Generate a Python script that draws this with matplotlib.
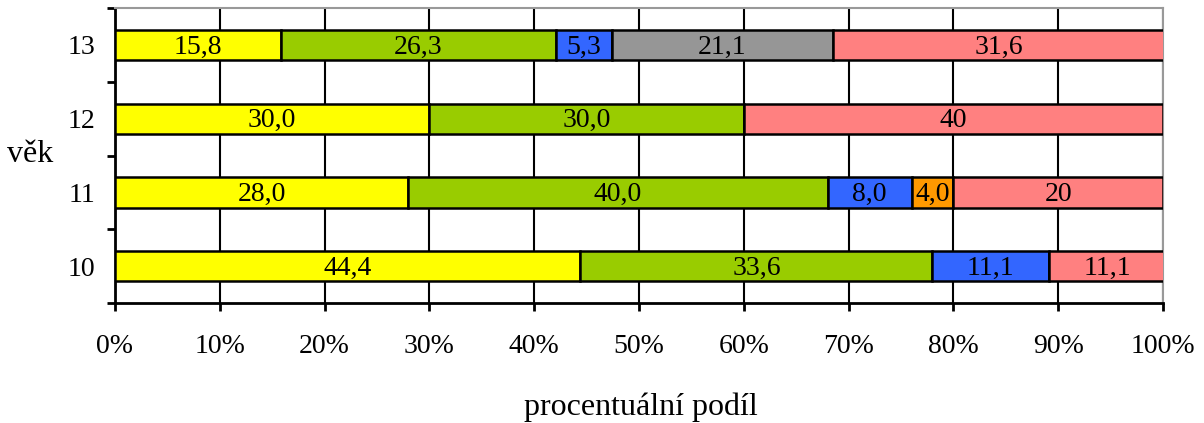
import matplotlib.pyplot as plt
import numpy as np

plt.rcParams['font.family'] = ['Liberation Serif', 'DejaVu Serif']
plt.rcParams['font.size'] = 20

# --- DATA ---
ages = ['10', '11', '12', '13']
yellow = [44.4, 28.0, 30.0, 15.8]
green = [33.6, 40.0, 30.0, 26.3]
blue = [11.1, 8.0, 0.0, 5.3]
orange = [0.0, 4.0, 0.0, 0.0]
gray = [0.0, 0.0, 0.0, 21.1]
pink = [11.1, 20.0, 40.0, 31.6]

yellow_lbl = ['44,4', '28,0', '30,0', '15,8']
green_lbl = ['33,6', '40,0', '30,0', '26,3']
blue_lbl = ['11,1', '8,0', '', '5,3']
orange_lbl = ['', '4,0', '', '']
gray_lbl = ['', '', '', '21,1']
pink_lbl = ['11,1', '20', '40', '31,6']

xticks = [0, 10, 20, 30, 40, 50, 60, 70, 80, 90, 100]
xtick_labels = ['0%', '10%', '20%', '30%', '40%', '50%', '60%', '70%', '80%', '90%', '100%']

series = [
    (yellow, yellow_lbl, '#ffff00'),
    (green, green_lbl, '#99cc00'),
    (blue, blue_lbl, '#3366ff'),
    (orange, orange_lbl, '#ff9900'),
    (gray, gray_lbl, '#969696'),
    (pink, pink_lbl, '#ff8080'),
]

fig = plt.figure(figsize=(12.04, 4.23), dpi=100)
ax = fig.add_axes([0.0955, 0.2837, 0.966 - 0.0955, 0.981 - 0.2837])

y = np.arange(len(ages))
left = np.zeros(len(ages))
for vals, lbls, col in series:
    vals = np.array(vals)
    bars = ax.barh(y, vals, left=left, height=0.41, color=col,
                   edgecolor='black', linewidth=1.8, zorder=3)
    for b, v, t in zip(bars, vals, lbls):
        if v > 0 and t:
            ax.text(b.get_x() + b.get_width() / 2, b.get_y() + b.get_height() / 2 - 0.03,
                    t, ha='center', va='center', fontsize=20, zorder=4)
    left += vals

ax.set_xlim(0, 100)
ax.set_ylim(-0.5, len(ages) - 0.5)

# vertical grid
ax.set_xticks(xticks)
ax.set_xticklabels(xtick_labels)
ax.xaxis.grid(True, color='black', linewidth=1.5, zorder=0)
ax.set_axisbelow(True)

# y ticks at category boundaries, labels at centers
ax.set_yticks(np.arange(-0.5, len(ages), 1.0))
ax.set_yticklabels([])
ax.set_yticks(y, minor=True)
ax.set_yticklabels(ages, minor=True)
ax.tick_params(axis='y', which='major', direction='out', length=6, width=2)
ax.tick_params(axis='y', which='minor', length=0, pad=14, labelsize=20)
ax.tick_params(axis='x', direction='out', length=6, width=2, pad=16, labelsize=20)

for s in ['left', 'bottom']:
    ax.spines[s].set_linewidth(2)
    ax.spines[s].set_color('black')
for s in ['top', 'right']:
    ax.spines[s].set_linewidth(1.5)
    ax.spines[s].set_color('#999999')

fig.text(0.006, 0.635, 'věk', fontsize=23, ha='left', va='center')
fig.text(0.532, 0.038, 'procentuální podíl', fontsize=23, ha='center', va='center')

fig.savefig('out.png', dpi=100)
